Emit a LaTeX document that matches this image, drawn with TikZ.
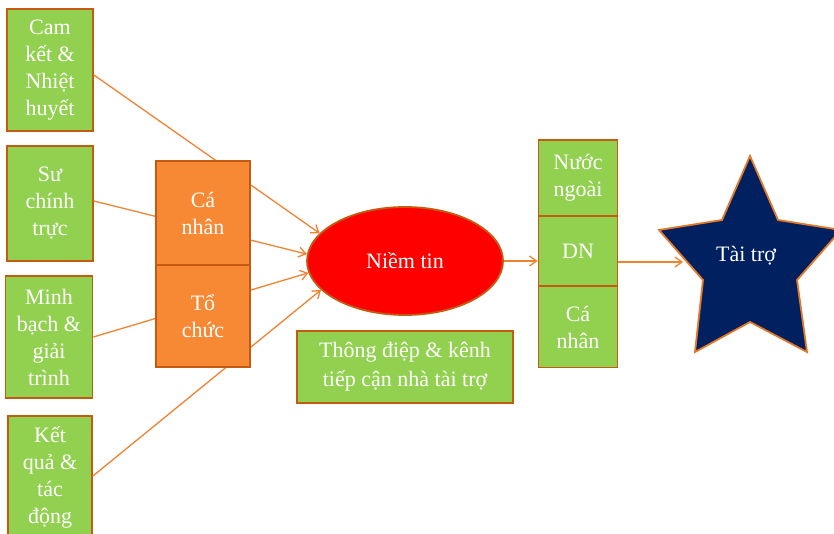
\documentclass[tikz,border=0pt]{standalone}
\usepackage{fontspec}
\setmainfont{Liberation Serif}
\usetikzlibrary{arrows.meta,shapes.geometric,calc}
\definecolor{gfill}{RGB}{146,208,80}
\definecolor{bord}{RGB}{197,90,17}
\definecolor{ofill}{RGB}{247,137,52}
\definecolor{conncol}{RGB}{240,130,50}
\definecolor{navy}{RGB}{0,32,96}
\definecolor{starbord}{RGB}{228,120,40}
\begin{document}
\begin{tikzpicture}[x=1pt,y=-1pt,
  box/.style={draw=bord,line width=1.8pt,fill=gfill,text=white,align=center,
    font=\fontsize{22}{27}\selectfont,inner sep=0pt},
  obox/.style={box,fill=ofill},
  conn/.style={draw=conncol,line width=1.3pt,-{Straight Barb[length=7pt,width=10pt]}}]
\useasboundingbox (0,0) rectangle (834,534);
% left green boxes
\node[box,minimum width=86pt,minimum height=122pt] (b1) at (50,70) {Cam\\kết \&\\Nhiệt\\huyết};
\node[box,minimum width=86pt,minimum height=115pt] (b2) at (50,203.5) {Sư\\chính\\trực};
\node[box,minimum width=87pt,minimum height=122pt] (b3) at (49,337) {Minh\\bạch \&\\giải\\trình};
\node[box,minimum width=84pt,minimum height=122pt] (b4) at (50,477) {Kết\\quả \&\\tác\\động};
% ellipse
\node[ellipse,draw=bord,line width=1.8pt,fill=red,text=white,minimum width=196pt,minimum height=108pt,
  font=\fontsize{22}{27}\selectfont] (ell) at (405,261) {Niềm tin};
% connectors (behind orange boxes)
\draw[conn] ($(b1.east)+(0,5)$) -- (ell.162);
\draw[conn] ($(b2.east)+(0,-2.5)$) -- (ell.176);
\draw[conn] (b3.east) -- (ell.187);
\draw[conn] ($(b4.east)+(0,-1)$) -- (ell.199);
% orange boxes
\node[obox,minimum width=94pt,minimum height=104pt] (on1) at (203,213) {Cá\\nhân};
\node[obox,minimum width=94pt,minimum height=102pt] (on2) at (203,316) {Tổ\\chức};
% message box
\node[box,minimum width=216pt,minimum height=72pt,font=\fontsize{22}{29}\selectfont] (msg) at (405,367) {Thông điệp \& kênh\\tiếp cận nhà tài trợ};
% right boxes
\node[box,minimum width=79pt,minimum height=76pt] (r1) at (578,178) {Nước\\ngoài};
\node[box,minimum width=79pt,minimum height=70pt] (dn) at (578,251) {DN};
\node[box,minimum width=79pt,minimum height=81pt] (r3) at (578,327) {Cá\\nhân};
\draw[conn] (ell.east) -- (ell.east -| dn.west);
% star
\draw[draw=starbord,line width=1.8pt,fill=navy,line join=miter]
  (750,156) -- (778,220) -- (841,230) -- (797,280) -- (807,352) -- (750,322)
  -- (695,352) -- (703,280) -- (659,230) -- (722,220) -- cycle;
\node[text=white,font=\fontsize{22}{27}\selectfont] (star) at (746,256) {Tài trợ};
\coordinate (startip) at (683,262);
\draw[conn] (dn.east |- startip) -- (startip);
\end{tikzpicture}
\end{document}
